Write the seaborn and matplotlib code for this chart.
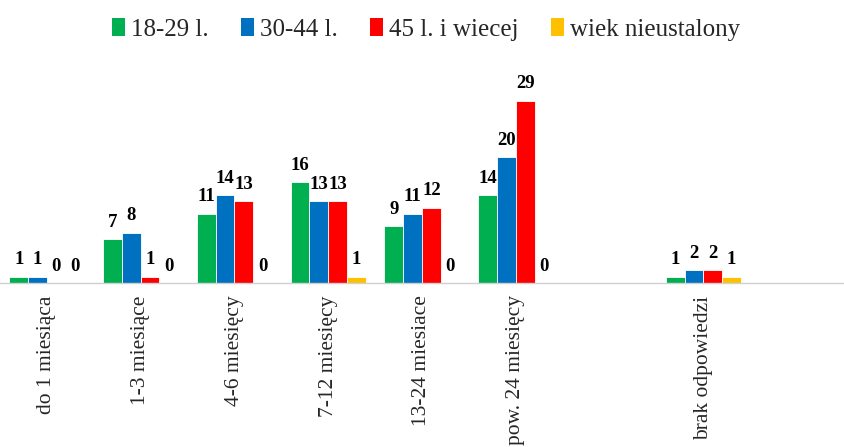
import numpy as np
import pandas as pd
import matplotlib
matplotlib.use("Agg")
import matplotlib.pyplot as plt
import seaborn as sns
from matplotlib.patches import Patch

# ─────────────────────────────────────────────
# Data
# ─────────────────────────────────────────────
CATEGORIES = ["do 1 miesiąca", "1-3 miesiące", "4-6 miesięcy", "7-12 miesięcy",
              "13-24 miesiace", "pow. 24 miesięcy", "brak odpowiedzi"]
# empty slots on the category axis, as in the original
ORDER = CATEGORIES[:6] + [" "] + [CATEGORIES[6]] + ["  "]

GROUPS = ["18-29 l.", "30-44 l.", "45 l. i wiecej", "wiek nieustalony"]
AGE_18_29 = [1, 7, 11, 16, 9, 14, 1]
AGE_30_44 = [1, 8, 14, 13, 11, 20, 2]
AGE_45_UP = [0, 1, 13, 13, 12, 29, 2]
AGE_UNKNOWN = [0, 0, 0, 1, 0, 0, 1]

COLORS = ["#00B050", "#0070C0", "#FF0000", "#FFC000"]

rows = []
for grp, vals in zip(GROUPS, [AGE_18_29, AGE_30_44, AGE_45_UP, AGE_UNKNOWN]):
    for cat, v in zip(CATEGORIES, vals):
        rows.append({"kategoria": cat, "grupa": grp, "liczba": v})
df = pd.DataFrame(rows)

# ─────────────────────────────────────────────
# Plot
# ─────────────────────────────────────────────
sns.set_style("white")
plt.rcParams["font.family"] = ["Liberation Serif", "DejaVu Serif"]

fig = plt.figure(figsize=(8.44, 4.47), dpi=100)
ax = fig.add_axes([0.0, 0.367, 1.0, 0.45])

sns.barplot(data=df, x="kategoria", y="liczba", hue="grupa",
            order=ORDER, hue_order=GROUPS, palette=COLORS, saturation=1,
            width=0.8, edgecolor="white", linewidth=0.6,
            legend=False, ax=ax)

for cont in ax.containers:
    ax.bar_label(cont, fmt="%d", padding=6, fontsize=13.5,
                 fontweight="bold", color="black")

ax.set_ylim(0, 32)
ax.set_xlim(-0.5, len(ORDER) - 0.5)
ax.set_xlabel("")
ax.set_ylabel("")
ax.set_yticks([])
ax.tick_params(axis="x", length=0, pad=9)
plt.setp(ax.get_xticklabels(), rotation=90, fontsize=15.5, va="top")
for side in ["top", "left", "right"]:
    ax.spines[side].set_visible(False)
ax.spines["bottom"].set_color("#d0d0d0")
ax.spines["bottom"].set_linewidth(1)

handles = [Patch(facecolor=c, edgecolor="none") for c in COLORS]
fig.legend(handles, GROUPS, loc="upper center", bbox_to_anchor=(0.505, 1.01),
           ncol=4, frameon=False, fontsize=18, handlelength=0.5,
           handleheight=0.75, handletextpad=0.25, columnspacing=1.3)

fig.savefig("out.png", dpi=100)
